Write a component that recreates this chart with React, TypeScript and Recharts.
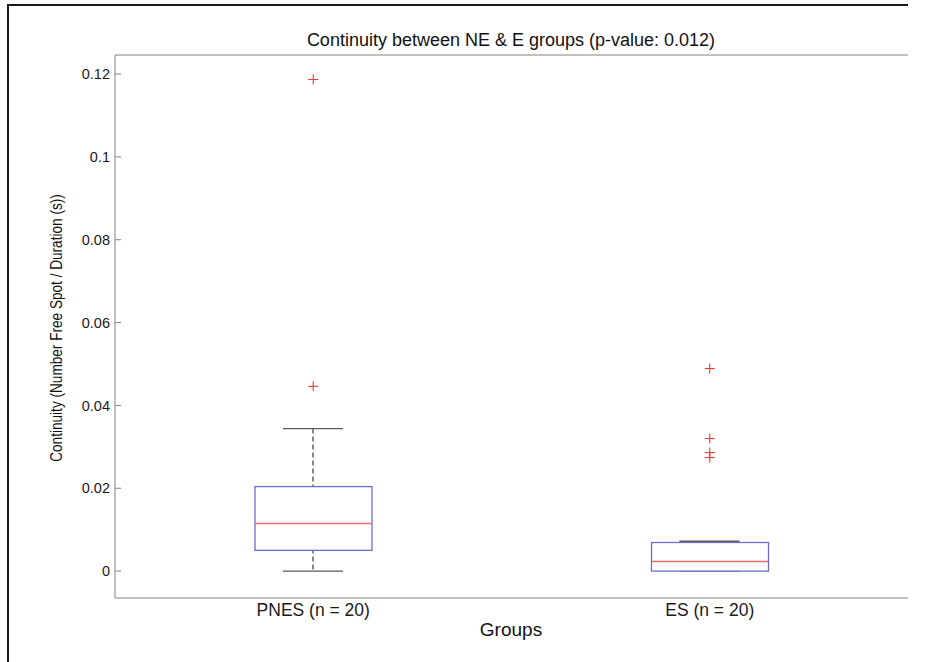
import React from 'react';
import { ComposedChart, Bar, Scatter, XAxis, YAxis } from 'recharts';

const groups = ['PNES (n = 20)', 'ES (n = 20)'];
const whiskerLow = [0, 0];
const q1 = [0.005, 0];
const medians = [0.0115, 0.0023];
const q3 = [0.0204, 0.0069];
const whiskerHigh = [0.0344, 0.0072];
const outlierGroups = ['PNES (n = 20)', 'PNES (n = 20)', 'ES (n = 20)', 'ES (n = 20)', 'ES (n = 20)', 'ES (n = 20)'];
const outlierValues = [0.1187, 0.0446, 0.0489, 0.032, 0.0286, 0.0274];
const yTicks = [0, 0.02, 0.04, 0.06, 0.08, 0.1, 0.12];
const yTickLabels = ['0', '0.02', '0.04', '0.06', '0.08', '0.1', '0.12'];
const yDomain = [-0.0065, 0.1246];

const rows = groups.map((g, i) => ({
  group: g,
  whisker: [whiskerLow[i], whiskerHigh[i]],
  box: [q1[i], q3[i]],
  median: medians[i],
}));
const outliers = outlierValues.map((v, i) => ({ group: outlierGroups[i], value: v }));

const FONT = '"Liberation Sans", Arial, Helvetica, sans-serif';
const AXIS_COLOR = '#8a807c';
const BOX_WIDTH = 117;
const CAP_WIDTH = 60;

const WhiskerShape = (props: any) => {
  const { x, y, width, height } = props;
  const top = Math.min(y, y + height);
  const bot = Math.max(y, y + height);
  const cx = x + width / 2;
  return (
    <g>
      <line x1={cx} x2={cx} y1={top} y2={bot} stroke="#3a3a3a" strokeWidth={1.2} strokeDasharray="5 3" />
      <line x1={x} x2={x + width} y1={top} y2={top} stroke="#5a5a5a" strokeWidth={1.3} />
      <line x1={x} x2={x + width} y1={bot} y2={bot} stroke="#5a5a5a" strokeWidth={1.3} />
    </g>
  );
};

const BoxShape = (props: any) => {
  const { x, y, width, height } = props;
  const top = Math.min(y, y + height);
  const h = Math.abs(height);
  return <rect x={x} y={top} width={width} height={h} fill="#ffffff" stroke="#6c6cd2" strokeWidth={1.3} />;
};

const MedianShape = (props: any) => {
  const { cx, cy } = props;
  return <line x1={cx - BOX_WIDTH / 2} x2={cx + BOX_WIDTH / 2} y1={cy} y2={cy} stroke="#f06a6a" strokeWidth={1.4} />;
};

const PlusShape = (props: any) => {
  const { cx, cy } = props;
  const r = 5;
  return (
    <g>
      <line x1={cx - r} x2={cx + r} y1={cy} y2={cy} stroke="#e83a3a" strokeWidth={1.1} />
      <line x1={cx} x2={cx} y1={cy - r} y2={cy + r} stroke="#e83a3a" strokeWidth={1.1} />
    </g>
  );
};

export default function App() {
  return (
    <div style={{ position: 'relative', width: 918, height: 646, fontFamily: FONT }}>
      <style>{'html,body{overflow:hidden;background:#fff;}'}</style>
      <div style={{ position: 'fixed', left: 7, top: 4, width: 901, height: 2, background: '#1a1a1a', zIndex: 5 }} />
      <div style={{ position: 'fixed', left: 7, top: 4, width: 2, height: 700, background: '#1a1a1a', zIndex: 5 }} />
      <ComposedChart
        width={918}
        height={646}
        data={rows}
        margin={{ top: 46, right: 18, bottom: 26, left: 0 }}
        style={{ position: 'absolute', left: 0, top: 0 }}
      >
        <XAxis
          xAxisId="main"
          dataKey="group"
          type="category"
          allowDuplicatedCategory={false}
          height={30}
          tickLine={false}
          tickSize={0}
          tickMargin={6}
          stroke={AXIS_COLOR}
          tick={{ fill: '#1a1a1a', fontSize: 17.5, fontFamily: FONT }}
        />
        <XAxis xAxisId="top" dataKey="group" orientation="top" height={1} tick={false} tickLine={false} stroke={AXIS_COLOR} />
        <XAxis xAxisId="w" dataKey="group" hide height={0} />
        <XAxis xAxisId="b" dataKey="group" hide height={0} />
        <YAxis
          type="number"
          domain={yDomain}
          ticks={yTicks}
          allowDataOverflow
          width={107}
          tickSize={-6}
          tickMargin={11}
          stroke={AXIS_COLOR}
          tick={{ fill: '#1a1a1a', fontSize: 14.5, fontFamily: FONT }}
          tickFormatter={(v: number) => yTickLabels[yTicks.indexOf(v)] ?? String(v)}
        />
        <YAxis
          yAxisId="right"
          orientation="right"
          type="number"
          domain={yDomain}
          ticks={yTicks}
          allowDataOverflow
          width={0}
          tickSize={-6}
          stroke={AXIS_COLOR}
          tickFormatter={() => ''}
        />
        <Bar xAxisId="w" dataKey="whisker" barSize={CAP_WIDTH} shape={<WhiskerShape />} isAnimationActive={false} />
        <Bar xAxisId="b" dataKey="box" barSize={BOX_WIDTH} shape={<BoxShape />} isAnimationActive={false} />
        <Scatter xAxisId="main" dataKey="median" shape={<MedianShape />} isAnimationActive={false} />
        <Scatter xAxisId="main" data={outliers} dataKey="value" shape={<PlusShape />} isAnimationActive={false} />
      </ComposedChart>
      <div
        style={{
          position: 'absolute',
          left: 203,
          top: 23,
          width: 600,
          textAlign: 'center',
          fontSize: 18,
          lineHeight: '18px',
          color: '#111',
        }}
      >
        Continuity between NE &amp; E groups (p-value: 0.012)
      </div>
      <div
        style={{
          position: 'absolute',
          left: 203,
          top: 612,
          width: 600,
          textAlign: 'center',
          fontSize: 19,
          lineHeight: '20px',
          color: '#111',
        }}
      >
        Groups
      </div>
      <div
        style={{
          position: 'absolute',
          left: 49 - 200,
          top: 312,
          width: 400,
          textAlign: 'center',
          fontSize: 17,
          lineHeight: '16px',
          color: '#111',
          whiteSpace: 'nowrap',
          transform: 'rotate(-90deg) scaleX(0.8)',
          transformOrigin: '200px 8px',
        }}
      >
        Continuity (Number Free Spot / Duration (s))
      </div>
    </div>
  );
}
